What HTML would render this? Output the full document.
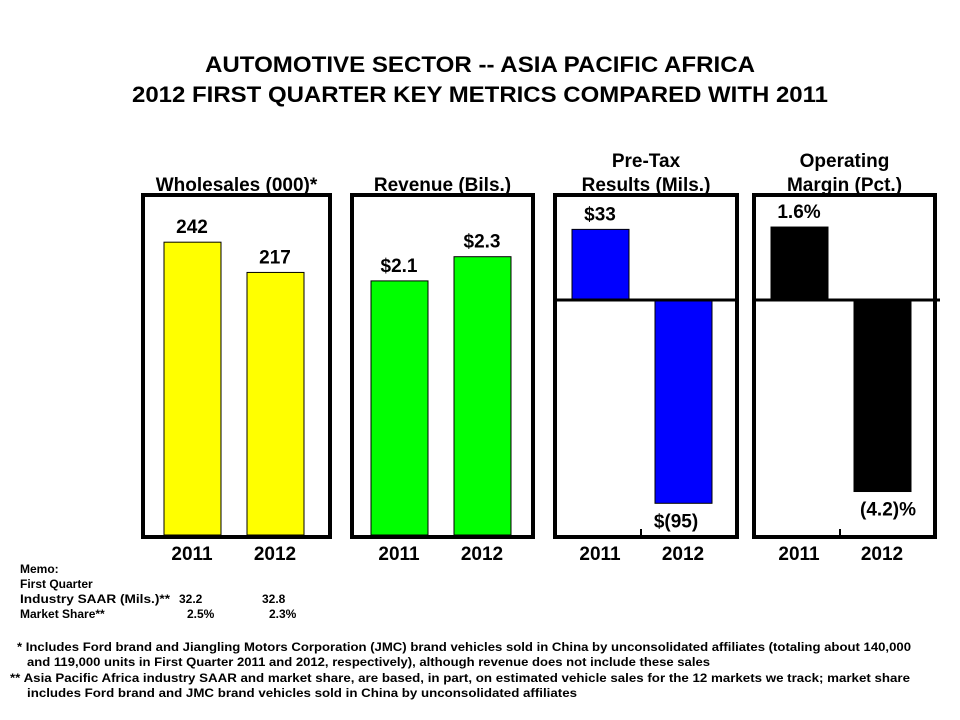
<!DOCTYPE html>
<html><head><meta charset="utf-8"><style>
body{margin:0;background:#fff;width:960px;height:720px;overflow:hidden;font-family:"Liberation Sans",Arial,sans-serif}
svg{display:block}
</style></head><body>
<svg id="c" width="960" height="720" font-family="Liberation Sans, Arial, sans-serif">
<text x="480" y="72" text-anchor="middle" font-size="22" font-weight="bold" textLength="550" lengthAdjust="spacingAndGlyphs">AUTOMOTIVE SECTOR -- ASIA PACIFIC AFRICA</text>
<text x="480" y="102" text-anchor="middle" font-size="22" font-weight="bold" textLength="696" lengthAdjust="spacingAndGlyphs">2012 FIRST QUARTER KEY METRICS COMPARED WITH 2011</text>
<g font-size="12" font-weight="bold">
<text x="20" y="573">Memo:</text>
<text x="20" y="588">First Quarter</text>
<text x="20" y="603" textLength="150" lengthAdjust="spacingAndGlyphs">Industry SAAR (Mils.)**</text><text x="179" y="603">32.2</text><text x="262" y="603">32.8</text>
<text x="20" y="618">Market Share**</text><text x="187" y="618">2.5%</text><text x="269" y="618">2.3%</text>
</g>
<g font-size="12" font-weight="bold">
<text x="17" y="651" textLength="894" lengthAdjust="spacingAndGlyphs">*  Includes Ford brand and Jiangling Motors Corporation (JMC) brand vehicles sold in China by unconsolidated affiliates (totaling about 140,000</text>
<text x="27" y="666" textLength="683" lengthAdjust="spacingAndGlyphs">and 119,000 units in First Quarter 2011 and 2012, respectively), although revenue does not include these sales</text>
<text x="10" y="682" textLength="900" lengthAdjust="spacingAndGlyphs">**  Asia Pacific Africa industry SAAR and market share, are based, in part, on estimated vehicle sales for the 12 markets we track; market share</text>
<text x="27" y="697" textLength="550" lengthAdjust="spacingAndGlyphs">includes Ford brand and JMC brand vehicles sold in China by unconsolidated affiliates</text>
</g>
</svg>
<script>
const panelTitles=[["Wholesales (000)*"],["Revenue (Bils.)"],["Pre-Tax","Results (Mils.)"],["Operating","Margin (Pct.)"]];
const years=["2011","2012"];
const wholesales=[242,217];
const revenue=[2.1,2.3];
const pretax=[33,-95];
const margin=[1.6,-4.2];
const labels=[["242","217"],["$2.1","$2.3"],["$33","$(95)"],["1.6%","(4.2)%"]];
const series=[wholesales,revenue,pretax,margin];
const colors=["#ffff00","#00ff00","#0000ff","#000000"];
const panels=[{l:143,r:330,off:21,zero:535,scale:1.21},{l:352,r:533,off:19,zero:535,scale:121},{l:555,r:737,off:17,zero:300,scale:2.14},{l:754,r:935,off:17,zero:300,scale:45.6}];
const svg=document.getElementById('c');
const NS="http://www.w3.org/2000/svg";
function mk(t,a,p){const e=document.createElementNS(NS,t);for(const k in a)e.setAttribute(k,a[k]);(p||svg).appendChild(e);return e;}
panels.forEach((p,i)=>{
  const g=mk('g',{});
  
  
  const w=p.r-p.l, top=195, bot=537;
  const yv=v=>p.zero-v*p.scale;
  const bx=j=>p.l+p.off+j*83;
  series[i].forEach((v,j)=>{
    const y0=yv(Math.max(v,0)), y1=yv(Math.min(v,0));
    const b=mk('rect',{x:bx(j),y:y0,width:57,height:y1-y0,fill:colors[i],stroke:'#000','stroke-width':1},g);
    
    
    const ly=v>=0?y0-9:y1+24;
    const dx=(i==3&&j==1)?6:(i==2&&j==1?-7:0);
    const t=mk('text',{x:bx(j)+28+dx,y:ly,'text-anchor':'middle','font-size':19,'font-weight':'bold'},g);
    t.textContent=labels[i][j];
    
    
    const yl=mk('text',{x:bx(j)+28,y:560,'text-anchor':'middle','font-size':19,'font-weight':'bold'},g);
    yl.textContent=years[j];
    
    
  });
  const f=mk('rect',{x:p.l,y:top,width:w,height:bot-top,fill:'none',stroke:'#000','stroke-width':4},g);
  
  
  if(p.zero<530){
    const z=mk('line',{x1:p.l,x2:p.r+(i==3?5:0),y1:p.zero,y2:p.zero,stroke:'#000','stroke-width':3},g);
    
    
    const tk=mk('line',{x1:p.l+86,x2:p.l+86,y1:bot-8,y2:bot,stroke:'#000','stroke-width':2},g);
    
    
  }
  const tl=panelTitles[i];
  tl.forEach((s,k)=>{
    const t=mk('text',{x:(p.l+p.r)/2,y:191-(tl.length-1-k)*24,'text-anchor':'middle','font-size':19,'font-weight':'bold'},g);
    t.textContent=s;
    
    
  });
});
</script>
</body></html>
